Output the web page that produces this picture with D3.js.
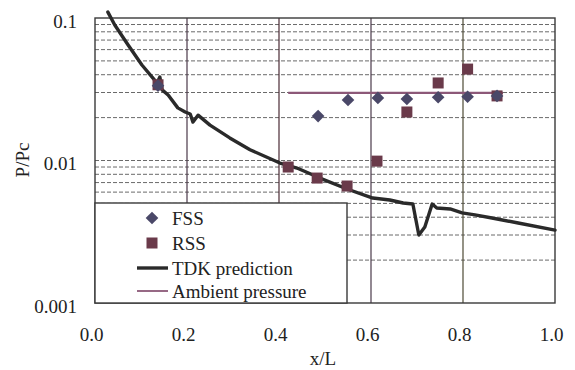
<!DOCTYPE html>
<html>
<head>
<meta charset="utf-8">
<script src="https://cdn.jsdelivr.net/npm/d3@7"></script>
<style>
  html, body { margin: 0; padding: 0; background: #ffffff; }
  svg { display: block; }
</style>
</head>
<body>
<div id="chart"></div>
<script>
// ---- data ----
const fssX = [0.137, 0.485, 0.550, 0.615, 0.678, 0.746, 0.810, 0.874];
const fssY = [0.0335, 0.0205, 0.0266, 0.0275, 0.0270, 0.0278, 0.0280, 0.0284];

const rssX = [0.137, 0.420, 0.483, 0.548, 0.613, 0.678, 0.746, 0.810, 0.874];
const rssY = [0.0340, 0.0090, 0.00753, 0.00662, 0.0099, 0.0219, 0.0350, 0.0438, 0.0284];

const tdkX = [0.028, 0.043, 0.072, 0.102, 0.126, 0.135, 0.141, 0.146, 0.159, 0.180, 0.196, 0.207, 0.213, 0.224, 0.250, 0.293, 0.337, 0.402, 0.439, 0.489, 0.548, 0.604, 0.641, 0.670, 0.691, 0.704, 0.717, 0.733, 0.743, 0.772, 0.798, 0.826, 0.863, 0.920, 1.000];
const tdkY = [0.110, 0.0893, 0.0647, 0.0468, 0.0379, 0.0350, 0.0385, 0.0313, 0.0288, 0.0234, 0.0219, 0.0212, 0.0186, 0.0208, 0.0177, 0.0144, 0.0119, 0.00960, 0.00885, 0.00753, 0.00631, 0.00545, 0.00528, 0.00503, 0.00495, 0.00300, 0.00341, 0.00495, 0.00464, 0.00457, 0.00429, 0.00415, 0.00395, 0.00364, 0.00325];

const ambientX = [0.42, 0.887];
const ambientY = [0.0298, 0.0298];

const xTicks = [0.0, 0.2, 0.4, 0.6, 0.8, 1.0];
const yTicks = [0.001, 0.01, 0.1];
const yTickLabels = ["0.001", "0.01", "0.1"];
const yMinor = [0.002,0.003,0.004,0.005,0.006,0.007,0.008,0.009,0.01,0.02,0.03,0.04,0.05,0.06,0.07,0.08,0.09];

const legendLabels = ["FSS", "RSS", "TDK prediction", "Ambient pressure"];

// ---- layout ----
const W = 575, H = 370;
const plot = {left: 95, right: 555, top: 18, bottom: 303};
const FONT = "'Liberation Serif'";
const FS = "19px";

const svg = d3.select("#chart").append("svg").attr("width", W).attr("height", H);

const x = d3.scaleLinear().domain([0, 1]).range([plot.left, plot.right]);
const y = d3.scaleLog().domain([0.001, 0.1]).range([plot.bottom, plot.top]);

const colFSS = "#4a4868", colRSS = "#6a3a4a", colTDK = "#2a2a2a", colAmb = "#8c5878";

// horizontal dashed gridlines
svg.append("g").selectAll("line").data(yMinor).join("line")
  .attr("x1", plot.left).attr("x2", plot.right)
  .attr("y1", d => y(d)).attr("y2", d => y(d))
  .attr("stroke", "#6a6a6a").attr("stroke-width", 1).attr("stroke-dasharray", "4,2");

// vertical gridlines
const vCols = ["#4a3848", "#4a2a34", "#4a3a4a", "#4e4a34"];
svg.append("g").selectAll("line").data(xTicks.slice(1, 5)).join("line")
  .attr("x1", d => x(d)).attr("x2", d => x(d))
  .attr("y1", plot.top).attr("y2", plot.bottom)
  .attr("stroke", (d, i) => vCols[i]).attr("stroke-width", 1.2);

// plot border
svg.append("rect").attr("x", plot.left).attr("y", plot.top)
  .attr("width", plot.right - plot.left).attr("height", plot.bottom - plot.top)
  .attr("fill", "none").attr("stroke", "#3a3a3a").attr("stroke-width", 1.4);

function styleText(sel) {
  sel.style("font-family", FONT).style("font-size", FS).style("fill", "#222");
}

// axes (tick labels only)
const xAxis = d3.axisBottom(x).tickValues(xTicks).tickFormat(d3.format(".1f")).tickSize(0).tickPadding(0);
const gx = svg.append("g").attr("transform", `translate(-4,${plot.bottom + 31})`).call(xAxis);
gx.select(".domain").remove();
gx.selectAll("text").call(styleText).attr("dy", "0.35em");

const yAxis = d3.axisLeft(y).tickValues(yTicks).tickFormat((d, i) => yTickLabels[i]).tickSize(0).tickPadding(0);
const gy = svg.append("g").attr("transform", `translate(${plot.left - 18},3)`).call(yAxis);
gy.select(".domain").remove();
gy.selectAll("text").call(styleText);

// axis titles
svg.append("text").attr("x", 323).attr("y", 358).attr("text-anchor", "middle")
  .attr("dominant-baseline", "central").call(styleText).text("x/L");
svg.append("text").attr("transform", "translate(22,160) rotate(-90)").attr("text-anchor", "middle")
  .attr("dominant-baseline", "central").call(styleText).text("P/Pc");

// TDK line
const line = d3.line().x(d => x(d[0])).y(d => y(d[1]));
svg.append("path").datum(tdkX.map((v, i) => [v, tdkY[i]]))
  .attr("d", line).attr("fill", "none").attr("stroke", colTDK).attr("stroke-width", 3.4)
  .attr("stroke-linejoin", "round").attr("stroke-linecap", "round");

// ambient
svg.append("path").datum(ambientX.map((v, i) => [v, ambientY[i]]))
  .attr("d", line).attr("fill", "none").attr("stroke", colAmb).attr("stroke-width", 2.2);

// RSS squares
const sq = 11;
svg.append("g").selectAll("rect").data(rssX.map((v, i) => [v, rssY[i]])).join("rect")
  .attr("x", d => x(d[0]) - sq / 2).attr("y", d => y(d[1]) - sq / 2)
  .attr("width", sq).attr("height", sq).attr("fill", colRSS);

// FSS diamonds
const diamond = d3.symbol().type(d3.symbolSquare).size(80);
svg.append("g").selectAll("path").data(fssX.map((v, i) => [v, fssY[i]])).join("path")
  .attr("d", diamond)
  .attr("transform", d => `translate(${x(d[0])},${y(d[1])}) rotate(45)`)
  .attr("fill", colFSS);

// legend
const lg = {x: 95, y: 203, w: 252, h: 100};
svg.append("rect").attr("x", lg.x).attr("y", lg.y).attr("width", lg.w).attr("height", lg.h)
  .attr("fill", "#ffffff").attr("stroke", "#3a3a3a").attr("stroke-width", 1.4);
const rowY = [218, 243, 268, 291];
svg.append("path").attr("d", diamond).attr("transform", `translate(152,${rowY[0]}) rotate(45)`).attr("fill", colFSS);
svg.append("rect").attr("x", 152 - sq / 2).attr("y", rowY[1] - sq / 2).attr("width", sq).attr("height", sq).attr("fill", colRSS);
svg.append("line").attr("x1", 137).attr("x2", 168).attr("y1", rowY[2]).attr("y2", rowY[2])
  .attr("stroke", colTDK).attr("stroke-width", 3.4);
svg.append("line").attr("x1", 137).attr("x2", 168).attr("y1", rowY[3]).attr("y2", rowY[3])
  .attr("stroke", colAmb).attr("stroke-width", 1.8);
svg.append("g").selectAll("text").data(legendLabels).join("text")
  .attr("x", 172).attr("y", (d, i) => rowY[i]).attr("dominant-baseline", "central")
  .call(styleText).text(d => d);
</script>
</body>
</html>
